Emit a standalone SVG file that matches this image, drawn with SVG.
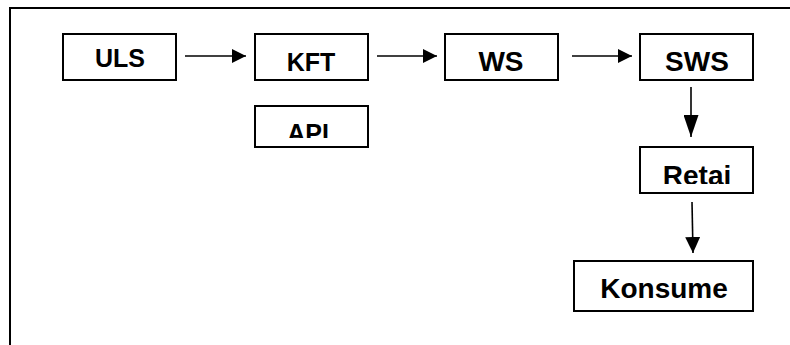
<svg xmlns="http://www.w3.org/2000/svg" width="790" height="345" viewBox="0 0 790 345">
  <style>
    .box { fill: #ffffff; stroke: #000000; stroke-width: 2; }
    .t { font-family: "Liberation Sans", Arial, sans-serif; font-weight: bold; fill: #000000; text-anchor: middle; }
    .s { font-size: 25px; }
    .l { font-size: 28px; }
    .conn { stroke: #000000; stroke-width: 1.6; fill: none; }
    .frame { stroke: #000000; stroke-width: 2; fill: none; }
  </style>
  <defs>
    <marker id="arrow" viewBox="0 0 14 14" refX="14" refY="7" markerWidth="14" markerHeight="14" markerUnits="userSpaceOnUse" orient="auto">
      <path d="M0,0 L14,7 L0,14 Z" fill="#000000"/>
    </marker>
    <marker id="arrow-long" viewBox="0 0 22 15" refX="22" refY="7.5" markerWidth="22" markerHeight="15" markerUnits="userSpaceOnUse" orient="auto">
      <path d="M0,0 L22,7.5 L0,15 Z" fill="#000000"/>
    </marker>
    <marker id="arrow-mid" viewBox="0 0 16 15" refX="16" refY="7.5" markerWidth="16" markerHeight="15" markerUnits="userSpaceOnUse" orient="auto">
      <path d="M0,0 L16,7.5 L0,15 Z" fill="#000000"/>
    </marker>
    <clipPath id="clipApi"><rect x="255" y="106" width="113" height="32"/></clipPath>
    <clipPath id="clipRetai"><rect x="640" y="147" width="113" height="37"/></clipPath>
  </defs>
  <rect x="0" y="0" width="790" height="345" fill="#ffffff"/>
  <path class="frame" d="M10,345 L10,8 L790,8"/>

  <g id="connectors">
    <line class="conn" x1="185" y1="56" x2="246" y2="56" marker-end="url(#arrow)"/>
    <line class="conn" x1="377" y1="56" x2="437" y2="56" marker-end="url(#arrow)"/>
    <line class="conn" x1="572" y1="56" x2="632" y2="56" marker-end="url(#arrow)"/>
    <line class="conn" x1="691" y1="87" x2="691" y2="137" marker-end="url(#arrow-long)"/>
    <line class="conn" x1="692" y1="202" x2="693" y2="253" marker-end="url(#arrow-mid)"/>
  </g>

  <g id="node-uls">
    <rect class="box" x="63" y="34" width="113" height="46"/>
    <text class="t s" x="120" y="67">ULS</text>
  </g>
  <g id="node-kft">
    <rect class="box" x="255" y="34" width="113" height="46"/>
    <text class="t s" x="311" y="71">KFT</text>
  </g>
  <g id="node-api">
    <rect class="box" x="255" y="106" width="113" height="41"/>
    <text class="t s" x="308" y="142" clip-path="url(#clipApi)">API</text>
  </g>
  <g id="node-ws">
    <rect class="box" x="445" y="34" width="113" height="46"/>
    <text class="t l" x="501" y="71">WS</text>
  </g>
  <g id="node-sws">
    <rect class="box" x="640" y="34" width="113" height="46"/>
    <text class="t l" x="697" y="71">SWS</text>
  </g>
  <g id="node-retai">
    <rect class="box" x="640" y="147" width="113" height="46"/>
    <text class="t l" x="697" y="185" clip-path="url(#clipRetai)">Retai</text>
  </g>
  <g id="node-konsume">
    <rect class="box" x="574" y="261" width="179" height="50"/>
    <text class="t l" x="664" y="298">Konsume</text>
  </g>
</svg>
